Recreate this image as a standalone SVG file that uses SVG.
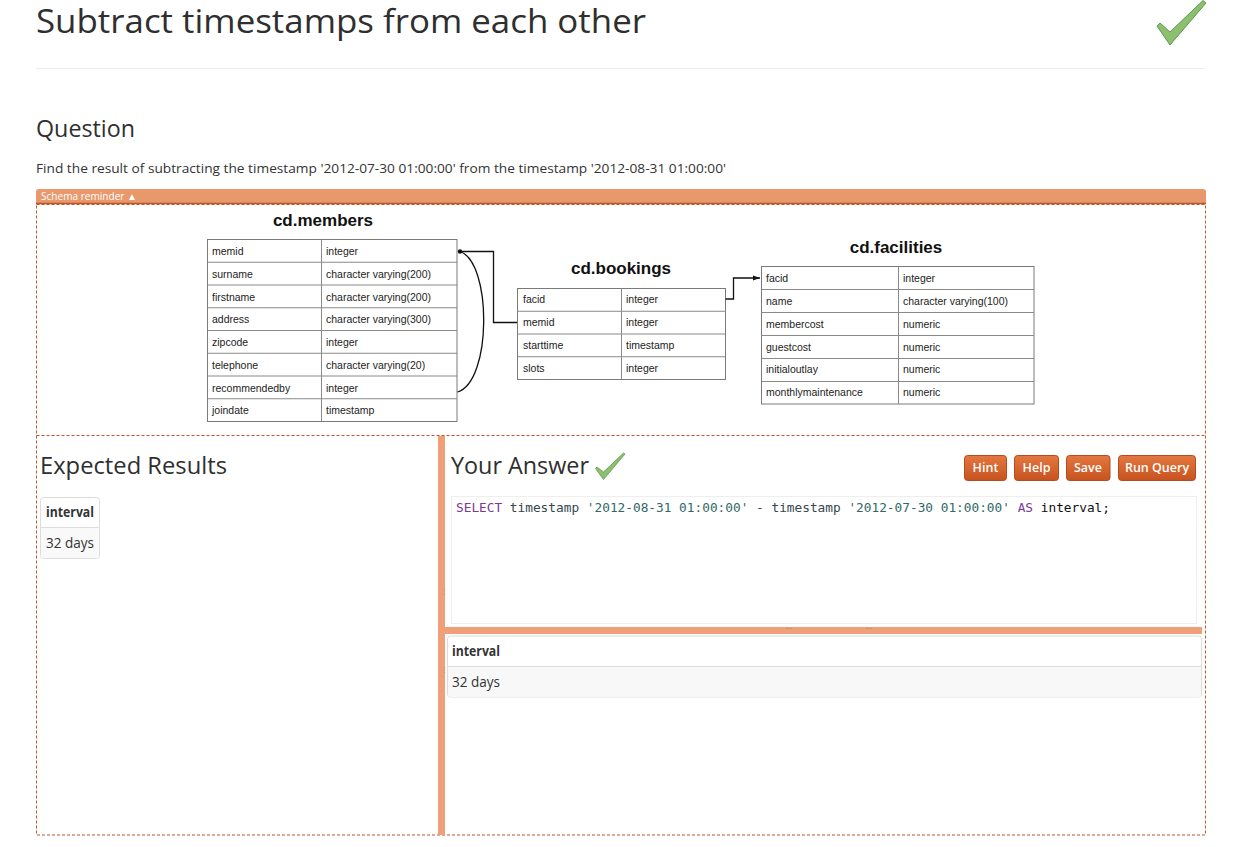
<svg xmlns="http://www.w3.org/2000/svg" width="1251" height="847" viewBox="0 0 1251 847">
<defs>
<style>
.ui{font-family:"Open Sans","Noto Sans","Liberation Sans",sans-serif;fill:#333}
.h{font-family:"Open Sans","Noto Sans",sans-serif;font-weight:400;fill:#2f2f2f}
.tt{font-family:"Liberation Sans",Arial,sans-serif;font-weight:bold;font-size:17px;fill:#111;text-anchor:middle}
.cell{font-family:"Liberation Sans",Arial,sans-serif;font-size:10.5px;fill:#222}
.tbl{fill:#fff;stroke:#7a7a7a;stroke-width:1}
.ln{stroke:#8a8a8a;stroke-width:1}
.dash{fill:none;stroke:#c0562a;stroke-width:1;stroke-dasharray:3,2}
.split{fill:#f0a078}
.btn{stroke:#b34d1f;stroke-width:1}
.bt{font-family:"Open Sans","Noto Sans",sans-serif;font-size:12.5px;font-weight:600;fill:#fff;text-anchor:middle}
.code{font-family:"DejaVu Sans Mono","Liberation Mono",monospace;font-size:12.8px}
.conn{fill:none;stroke:#111;stroke-width:1.3}
.dots{font-family:"Liberation Sans",sans-serif;font-size:7px;fill:#b06a48;text-anchor:middle}
</style>
<linearGradient id="bg" x1="0" y1="0" x2="0" y2="1">
<stop offset="0" stop-color="#e4773f"/>
<stop offset="1" stop-color="#c7531f"/>
</linearGradient>
<marker id="dot" markerWidth="6" markerHeight="6" refX="3" refY="3" markerUnits="userSpaceOnUse">
<circle cx="3" cy="3" r="2.2" fill="#111"/>
</marker>
<marker id="arr" markerWidth="8" markerHeight="8" refX="7" refY="4" orient="auto" markerUnits="userSpaceOnUse">
<path d="M0,1.5 L7,4 L0,6.5 Z" fill="#111"/>
</marker>
</defs>
<rect width="1251" height="847" fill="#fff"/>

<g id="header">
<text class="h" x="36" y="33" font-size="32" textLength="610" lengthAdjust="spacingAndGlyphs">Subtract timestamps from each other</text>
<polygon points="1157,26 1170,45 1206,3 1203,0.5 1170,32 1160,23" fill="#8cbf6e" stroke="#5e9a4c" stroke-width="1"/>
<line x1="36" y1="68.5" x2="1205" y2="68.5" stroke="#eee" stroke-width="1"/>
<text class="h" x="36" y="137" font-size="23" textLength="99" lengthAdjust="spacingAndGlyphs">Question</text>
<text class="ui" x="36" y="173" font-size="13.5" textLength="690" lengthAdjust="spacingAndGlyphs">Find the result of subtracting the timestamp '2012-07-30 01:00:00' from the timestamp '2012-08-31 01:00:00'</text>
</g>

<g id="schema-bar">
<path d="M36,204 V192 Q36,189 39,189 H1203 Q1206,189 1206,192 V204 Z" fill="#e9986c"/>
<line x1="36" y1="203.5" x2="1206" y2="203.5" stroke="#b9552b" stroke-width="1.5"/>
<text x="41" y="200" font-family="Open Sans,Noto Sans,sans-serif" font-size="10" fill="#fff" textLength="96" lengthAdjust="spacingAndGlyphs">Schema reminder ▲</text>
</g>

<g id="frame">
<rect class="dash" x="36.5" y="204.5" width="1169" height="630.5"/>
<line class="dash" x1="36.5" y1="435.5" x2="1205.5" y2="435.5"/>
</g>

<g id="members">
<text class="tt" x="323" y="226">cd.members</text>
<rect class="tbl" x="207.5" y="239.5" width="249.5" height="182"/>
<line class="ln" x1="321.5" y1="239.5" x2="321.5" y2="421.5"/>
<line class="ln" x1="207.5" y1="262.25" x2="457" y2="262.25"/>
<line class="ln" x1="207.5" y1="285" x2="457" y2="285"/>
<line class="ln" x1="207.5" y1="307.75" x2="457" y2="307.75"/>
<line class="ln" x1="207.5" y1="330.5" x2="457" y2="330.5"/>
<line class="ln" x1="207.5" y1="353.25" x2="457" y2="353.25"/>
<line class="ln" x1="207.5" y1="376" x2="457" y2="376"/>
<line class="ln" x1="207.5" y1="398.75" x2="457" y2="398.75"/>
<text class="cell" x="212" y="255">memid</text><text class="cell" x="326" y="255">integer</text>
<text class="cell" x="212" y="277.5">surname</text><text class="cell" x="326" y="277.5">character varying(200)</text>
<text class="cell" x="212" y="300.5">firstname</text><text class="cell" x="326" y="300.5">character varying(200)</text>
<text class="cell" x="212" y="323">address</text><text class="cell" x="326" y="323">character varying(300)</text>
<text class="cell" x="212" y="346">zipcode</text><text class="cell" x="326" y="346">integer</text>
<text class="cell" x="212" y="368.5">telephone</text><text class="cell" x="326" y="368.5">character varying(20)</text>
<text class="cell" x="212" y="391.5">recommendedby</text><text class="cell" x="326" y="391.5">integer</text>
<text class="cell" x="212" y="414">joindate</text><text class="cell" x="326" y="414">timestamp</text>
</g>

<g id="bookings">
<text class="tt" x="621" y="274">cd.bookings</text>
<rect class="tbl" x="517.5" y="288.5" width="208" height="91"/>
<line class="ln" x1="621.5" y1="288.5" x2="621.5" y2="379.5"/>
<line class="ln" x1="517.5" y1="311.25" x2="725.5" y2="311.25"/>
<line class="ln" x1="517.5" y1="334" x2="725.5" y2="334"/>
<line class="ln" x1="517.5" y1="356.75" x2="725.5" y2="356.75"/>
<text class="cell" x="523" y="303">facid</text><text class="cell" x="626" y="303">integer</text>
<text class="cell" x="523" y="326">memid</text><text class="cell" x="626" y="326">integer</text>
<text class="cell" x="523" y="348.5">starttime</text><text class="cell" x="626" y="348.5">timestamp</text>
<text class="cell" x="523" y="371.5">slots</text><text class="cell" x="626" y="371.5">integer</text>
</g>

<g id="facilities">
<text class="tt" x="896" y="253">cd.facilities</text>
<rect class="tbl" x="761.5" y="266.5" width="272.5" height="137.5"/>
<line class="ln" x1="898.5" y1="266.5" x2="898.5" y2="404"/>
<line class="ln" x1="761.5" y1="289.5" x2="1034" y2="289.5"/>
<line class="ln" x1="761.5" y1="312.5" x2="1034" y2="312.5"/>
<line class="ln" x1="761.5" y1="335.5" x2="1034" y2="335.5"/>
<line class="ln" x1="761.5" y1="358.5" x2="1034" y2="358.5"/>
<line class="ln" x1="761.5" y1="381.5" x2="1034" y2="381.5"/>
<text class="cell" x="766" y="282">facid</text><text class="cell" x="903" y="282">integer</text>
<text class="cell" x="766" y="305">name</text><text class="cell" x="903" y="305">character varying(100)</text>
<text class="cell" x="766" y="327.5">membercost</text><text class="cell" x="903" y="327.5">numeric</text>
<text class="cell" x="766" y="350.5">guestcost</text><text class="cell" x="903" y="350.5">numeric</text>
<text class="cell" x="766" y="373">initialoutlay</text><text class="cell" x="903" y="373">numeric</text>
<text class="cell" x="766" y="396">monthlymaintenance</text><text class="cell" x="903" y="396">numeric</text>
</g>

<g id="connectors">
<path class="conn" d="M517,322.5 H493.5 V251.5 H460" marker-end="url(#dot)"/>
<path class="conn" d="M457.5,392 C492,382 492,262 460,251.5" stroke-width="1.1"/>
<path class="conn" d="M725.5,299 H733.5 V278 H760" marker-end="url(#arr)"/>
</g>

<g id="splitters">
<rect class="split" x="438" y="436" width="7" height="399"/>
<rect class="split" x="445" y="627" width="757" height="7"/>
<text class="dots" x="441.5" y="592" transform="rotate(90 441.5 592)">···</text>
<text class="dots" x="441.5" y="670" transform="rotate(90 441.5 670)">···</text>
<text class="dots" x="789" y="631">···</text>
<text class="dots" x="869" y="631">···</text>
</g>

<g id="expected">
<text class="h" x="40" y="474" font-size="24" textLength="187" lengthAdjust="spacingAndGlyphs">Expected Results</text>
<rect x="40.5" y="497.5" width="59" height="61" rx="3" fill="#fff" stroke="#ddd"/>
<path d="M41,527.5 H99 V555.5 Q99,558 96.5,558 H43.5 Q41,558 41,555.5 Z" fill="#f9f9f9"/>
<line x1="40.5" y1="527.5" x2="99.5" y2="527.5" stroke="#ddd"/>
<text class="ui" x="46" y="517" font-size="14" font-weight="700" textLength="48" lengthAdjust="spacingAndGlyphs">interval</text>
<text class="ui" x="46" y="548" font-size="14" textLength="48" lengthAdjust="spacingAndGlyphs">32 days</text>
</g>

<g id="answer">
<text class="h" x="451" y="474" font-size="24" textLength="138" lengthAdjust="spacingAndGlyphs">Your Answer</text>
<polygon points="595.5,468.5 603.5,479.5 625,454 623.5,453 603.5,472 597,467" fill="#8cbf6e" stroke="#5e9a4c" stroke-width="0.8"/>
</g>

<g id="buttons">
<rect class="btn" x="964.5" y="455.5" width="42" height="25" rx="3" fill="url(#bg)"/>
<text class="bt" x="985.5" y="472">Hint</text>
<rect class="btn" x="1014.5" y="455.5" width="44" height="25" rx="3" fill="url(#bg)"/>
<text class="bt" x="1036.5" y="472">Help</text>
<rect class="btn" x="1066.5" y="455.5" width="43.5" height="25" rx="3" fill="url(#bg)"/>
<text class="bt" x="1088" y="472">Save</text>
<rect class="btn" x="1118.5" y="455.5" width="77" height="25" rx="3" fill="url(#bg)"/>
<text class="bt" x="1157" y="472">Run Query</text>
</g>

<g id="editor">
<rect x="451.5" y="496.5" width="745" height="127" fill="#fff" stroke="#eee"/>
<text class="code" x="456" y="512" textLength="654" lengthAdjust="spacingAndGlyphs"><tspan fill="#7a3a96">SELECT</tspan><tspan fill="#33474d"> timestamp </tspan><tspan fill="#2f6868">'2012-08-31 01:00:00'</tspan><tspan fill="#33474d"> - timestamp </tspan><tspan fill="#2f6868">'2012-07-30 01:00:00'</tspan><tspan fill="#33474d"> </tspan><tspan fill="#7a3a96">AS</tspan><tspan fill="#111"> interval;</tspan></text>
</g>

<g id="results">
<rect x="447.5" y="636" width="754" height="61" rx="3" fill="#fff" stroke="#ddd"/>
<path d="M448,666.5 H1201 V694.5 Q1201,697 1198.5,697 H450.5 Q448,697 448,694.5 Z" fill="#f8f8f8"/>
<line x1="447.5" y1="666.5" x2="1201.5" y2="666.5" stroke="#ddd"/>
<text class="ui" x="452" y="656" font-size="14" font-weight="700" textLength="48" lengthAdjust="spacingAndGlyphs">interval</text>
<text class="ui" x="452" y="687" font-size="14" textLength="48" lengthAdjust="spacingAndGlyphs">32 days</text>
</g>
</svg>
